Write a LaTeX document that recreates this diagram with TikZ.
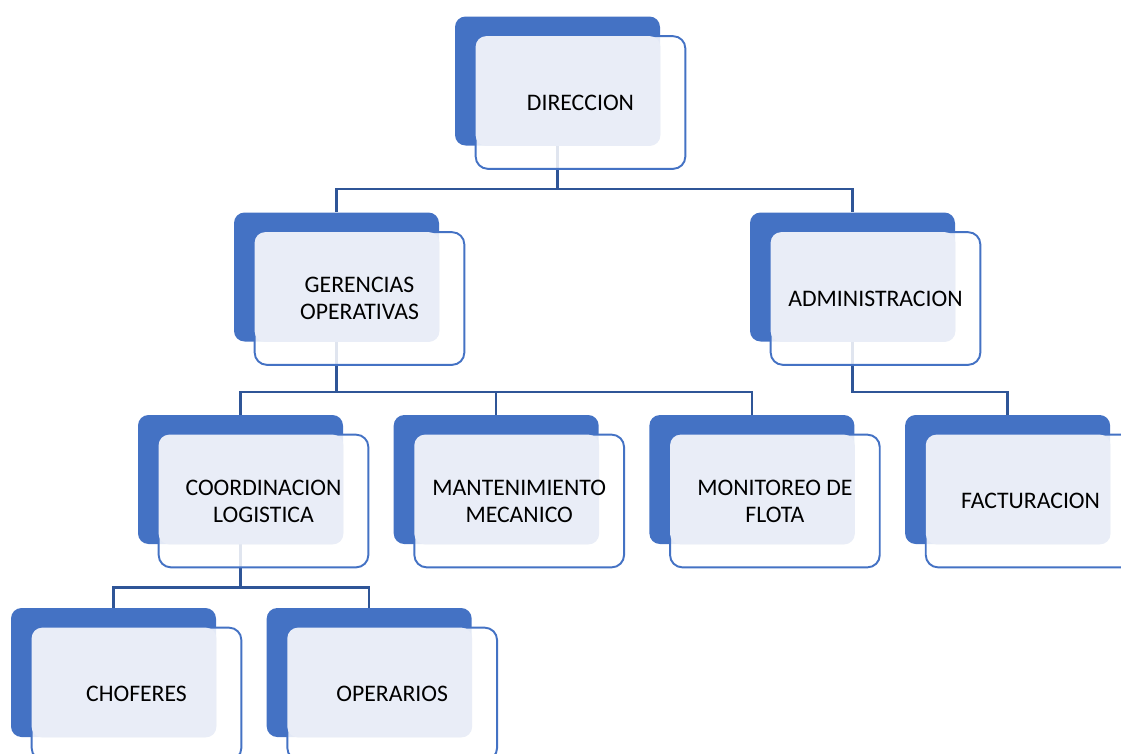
\documentclass[tikz,border=0pt]{standalone}
\usepackage{fontspec}
\setmainfont{Carlito}
\usetikzlibrary{positioning,calc,backgrounds}
\definecolor{unitblue}{RGB}{68,114,196}
\definecolor{unitlight}{RGB}{233,237,247}
\definecolor{linkblue}{RGB}{47,85,151}

\begin{document}
\begin{tikzpicture}[
        node distance=0.86cm and 1cm,
        back/.style={rectangle, rounded corners=6pt, fill=unitblue,
            minimum width=4.1cm, minimum height=2.58cm, inner sep=0pt},
        frame/.style={rounded corners=7pt, draw=unitblue, line width=1.1pt,
            fill=white, fill opacity=0.85},
        pane/.style={rounded corners=6pt, fill=unitlight},
        label/.style={font=\fontsize{13.5}{15.4}\selectfont, text=black, align=center},
        link/.style={draw=linkblue, line width=1.3pt}
    ]
        \useasboundingbox (0,0) rectangle (22.42,-15.06);
        \clip (0,0) rectangle (22.42,-15.06);

        \node[back] (dir) at (11.15,-1.62) {};
        \node[back] (ger) at (6.73,-5.54) {};
        \node[back] (adm) at (17.05,-5.54) {};
        \node[back] (coord) at (4.81,-9.59) {};
        \node[back, right=of coord] (mant) {};
        \node[back, right=of mant] (mon) {};
        \node[back, right=of mon] (fact) {};
        \node[back] (chof) at (2.27,-13.45) {};
        \node[back, right=of chof] (oper) {};

        \foreach \n/\t in {dir/DIRECCION, ger/{GERENCIAS\\OPERATIVAS},
            adm/ADMINISTRACION, coord/{COORDINACION\\LOGISTICA},
            mant/{MANTENIMIENTO\\MECANICO}, mon/{MONITOREO DE\\FLOTA},
            fact/FACTURACION, chof/CHOFERES, oper/OPERARIOS} {
            \draw[frame] ($(\n.north west)+(0.42,-0.40)$) rectangle ($(\n.south east)+(0.50,-0.46)$);
            \fill[pane] ($(\n.north west)+(0.42,-0.40)$) rectangle (\n.south east);
            \node[label] (\n-text) at ($(\n.center)+(0.46,-0.43)$) {\t};
        }

        \begin{scope}[on background layer]
            \draw[link] (dir.south) -- ++(0,-0.86) coordinate (busa) -| (ger.north);
            \draw[link] (busa) -| (adm.north);
            \draw[link] (ger.south) -- ++(0,-1.0) coordinate (busb) -| (coord.north);
            \draw[link] (busb) -| (mon.north);
            \draw[link] (busb -| mant.north) -- (mant.north);
            \draw[link] (adm.south) -- ++(0,-1.0) -| (fact.north);
            \draw[link] (coord.south) -- ++(0,-0.86) coordinate (busc) -| (chof.north);
            \draw[link] (busc) -| (oper.north);
        \end{scope}
    \end{tikzpicture}
\end{document}
